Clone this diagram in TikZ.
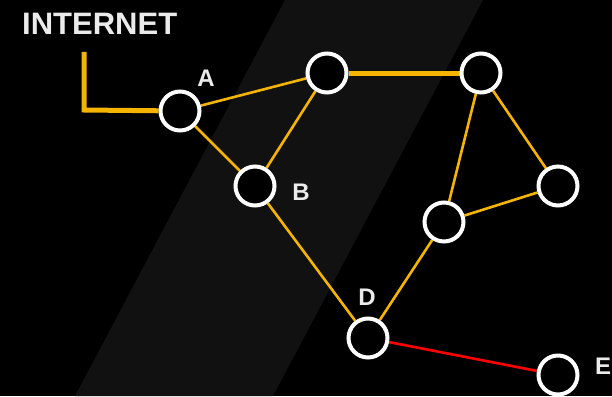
\documentclass[tikz,border=0pt]{standalone}
\usepackage{fontspec}
\setmainfont{Liberation Sans}
\usetikzlibrary{backgrounds}
\definecolor{gold}{HTML}{F5B400}
\definecolor{band}{HTML}{111111}
\begin{document}
\begin{tikzpicture}[x=1pt,y=-1pt,
  nd/.style={circle,draw=white,fill=black,line width=4pt,minimum size=39pt,inner sep=0pt},
  lbl/.style={text=white!92!black,font=\fontsize{24}{24}\selectfont\bfseries,inner sep=0pt},
  ln/.style={draw=gold,line width=2.6pt},
  thickln/.style={draw=gold,line width=5pt}]
\useasboundingbox (0,0) rectangle (612,396);
\node[text=white!92!black,font=\fontsize{31}{31}\selectfont\bfseries,inner sep=0pt,anchor=west] (inet) at (22,24) {INTERNET};
\coordinate (c0) at (84,52);
\coordinate (c1) at (84,110);
\node[nd] (A) at (180,111) {};
\node[nd] (T1) at (327,73) {};
\node[nd] (T2) at (481,73) {};
\node[nd] (R) at (558,186) {};
\node[nd] (M) at (444,222) {};
\node[nd] (B) at (255,186) {};
\node[nd] (D) at (368,338) {};
\node[nd] (E) at (558,375) {};
\begin{scope}[on background layer]
\fill[black] (0,0) rectangle (612,396);
\fill[band] (285,0) -- (483,0) -- (273,396) -- (75,396) -- cycle;
\draw[thickln] (c0) -- (c1) -- (A);
\draw[thickln] (T1) -- (T2);
\draw[ln] (A) -- (T1);
\draw[ln] (A) -- (B);
\draw[ln] (T1) -- (B);
\draw[ln] (T2) -- (M);
\draw[ln] (T2) -- (R);
\draw[ln] (R) -- (M);
\draw[ln] (M) -- (D);
\draw[ln] (B) -- (D);
\draw[draw=red,line width=2.6pt] (D) -- (E);
\end{scope}
\node[lbl] (lA) at (206,78) {A};
\node[lbl] (lB) at (301,192) {B};
\node[lbl] (lD) at (367,297) {D};
\node[lbl] (lE) at (603,366) {E};
\end{tikzpicture}
\end{document}
